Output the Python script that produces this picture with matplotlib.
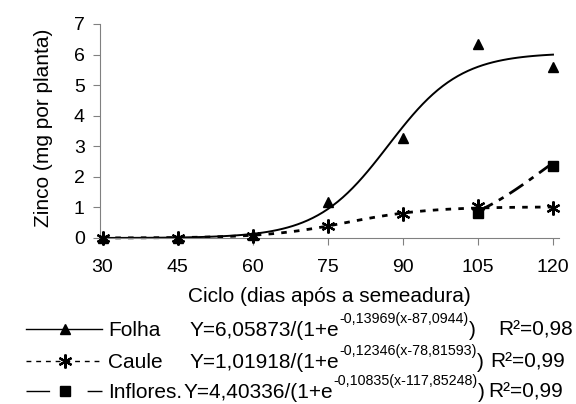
import numpy as np
import matplotlib
matplotlib.use("Agg")
import matplotlib.pyplot as plt
from matplotlib.lines import Line2D

plt.rcParams['font.family'] = ['Liberation Sans', 'DejaVu Sans']

# observed values (mg por planta)
dias = [30, 45, 60, 75, 90, 105, 120]
folha = [0.0, 0.0, 0.1, 1.18, 3.27, 6.34, 5.59]
caule = [0.0, 0.0, 0.08, 0.4, 0.78, 1.05, 0.98]
dias_infl = [105, 120]
infl = [0.83, 2.36]

# fitted logistic models shown in the legend: a / (1 + e^(-b(x - c)))
par_folha = (6.05873, 0.13969, 87.0944)
par_caule = (1.01918, 0.12346, 78.81593)
par_infl = (4.40336, 0.10835, 117.85248)

nomes = ["Folha", "Caule", "Inflores."]
eq_main = ["Y=6,05873/(1+e", "Y=1,01918/(1+e", "Y=4,40336/(1+e"]
eq_sup = ["-0,13969(x-87,0944)", "-0,12346(x-78,81593)", "-0,10835(x-117,85248)"]
r2 = ["R\u00b2=0,98", "R\u00b2=0,99", "R\u00b2=0,99"]
xticks = [30, 45, 60, 75, 90, 105, 120]
yticks = [0, 1, 2, 3, 4, 5, 6, 7]


def logistic(x, p):
    a, b, c = p
    return a / (1 + np.exp(-b * (x - c)))


W, H = 576, 404
fig = plt.figure(figsize=(W / 100, H / 100), dpi=100)
ax = fig.add_axes([100 / W, 1 - 238 / H, 459 / W, 214 / H])

xs = np.arange(30, 121, 1.0)
xs_i = np.arange(105, 120.5, 0.5)
ax.plot(xs, logistic(xs, par_folha), color='black', lw=1.4, clip_on=False)
ax.plot(xs, logistic(xs, par_caule), color='black', lw=2.0,
        dashes=(2, 2.6), clip_on=False)
ax.plot(xs_i, logistic(xs_i, par_infl), color='black', lw=2.0,
        dashes=(6, 2.5, 2, 2.5), clip_on=False)

ax.plot(dias, folha, ls='none', marker='^', ms=7, color='black', clip_on=False, zorder=5)
ax.plot(dias, caule, ls='none', marker=(6, 2, 0), ms=10, mew=1.6, color='black',
        clip_on=False, zorder=5)
ax.plot(dias_infl, infl, ls='none', marker='s', ms=7, color='black', clip_on=False, zorder=5)

ax.set_xlim(29.5, 121.2)
ax.set_ylim(0, 7)
ax.set_xticks(xticks)
ax.set_yticks(yticks)
for s in ['top', 'right']:
    ax.spines[s].set_visible(False)
for s in ['left', 'bottom']:
    ax.spines[s].set_color('#808080')
ax.tick_params(axis='both', direction='out', length=5, color='#808080', labelsize=14)
ax.tick_params(axis='x', pad=10)
ax.tick_params(axis='y', pad=6)
ax.set_xlabel("Ciclo (dias após a semeadura)", fontsize=15, labelpad=8)
ax.set_ylabel("Zinco (mg por planta)", fontsize=15)
ax.yaxis.set_label_coords(-0.102, 0.516)

# legend drawn by hand, in pixel positions of the figure
def fx(px):
    return px / W


def fy(py):
    return 1 - py / H


rows_y = [329, 361, 391]
estilos = [
    dict(ls='-', marker='^', ms=7),
    dict(dashes=(3.5, 3.5), marker=(6, 2, 0), ms=10, mew=1.6),
    dict(dashes=(17, 27), marker='s', ms=7),
]
for y, st in zip(rows_y, estilos):
    fig.add_artist(Line2D([fx(26), fx(102)], [fy(y), fy(y)], color='black', lw=1.0,
                          transform=fig.transFigure,
                          **{k: v for k, v in st.items() if k not in ('marker', 'ms', 'mew')}))
    fig.add_artist(Line2D([fx(65)], [fy(y)], color='black', ls='none',
                          marker=st['marker'], ms=st['ms'], mew=st.get('mew', 1),
                          transform=fig.transFigure))

fig.canvas.draw()
r = fig.canvas.get_renderer()
eq_x = [190, 190, 184]
gaps = [22, 6, 4]
for i, y in enumerate(rows_y):
    base = y + 7
    fig.text(fx(108), fy(base), nomes[i], fontsize=15, va='baseline')
    t1 = fig.text(fx(eq_x[i]), fy(base), eq_main[i], fontsize=15, va='baseline')
    x1 = t1.get_window_extent(r).x1
    t2 = fig.text(x1 / W, fy(base - 13), eq_sup[i], fontsize=10.3, va='baseline')
    x2 = t2.get_window_extent(r).x1
    t3 = fig.text(x2 / W, fy(base), ")", fontsize=15, va='baseline')
    x3 = t3.get_window_extent(r).x1
    fig.text((x3 + gaps[i]) / W, fy(base), r2[i], fontsize=15, va='baseline')

fig.savefig("out.png", dpi=100)
